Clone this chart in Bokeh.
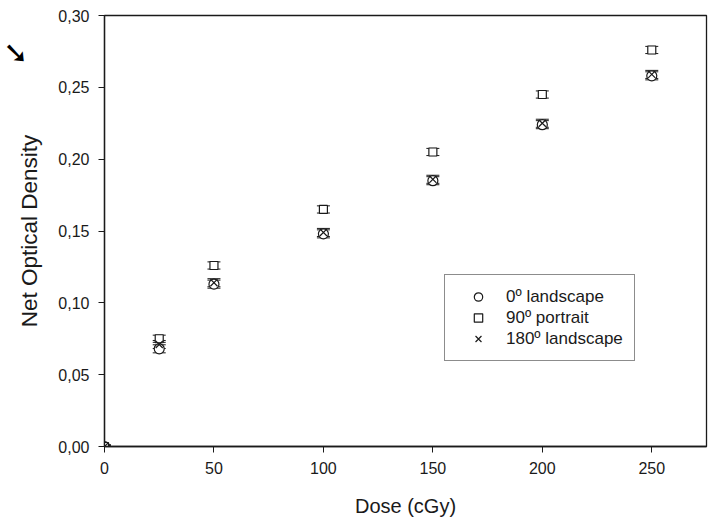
from bokeh.plotting import figure
from bokeh.models import (ColumnDataSource, Whisker, TeeHead, FixedTicker, Range1d,
                          Legend, LegendItem, LinearAxis)
from bokeh.embed import file_html
from bokeh.resources import INLINE

dose = [0, 25, 50, 100, 150, 200, 250]
od_0_landscape = [0.0, 0.068, 0.113, 0.148, 0.185, 0.224, 0.258]
od_90_portrait = [0.0, 0.075, 0.126, 0.165, 0.205, 0.245, 0.276]
od_180_landscape = [0.0, 0.071, 0.114, 0.149, 0.186, 0.225, 0.259]
err_0 = [0.001, 0.0028, 0.0028, 0.0028, 0.0028, 0.0028, 0.0028]
err_90 = [0.001, 0.0025, 0.0025, 0.0025, 0.0025, 0.0025, 0.0025]
err_180 = [0.001, 0.0028, 0.0028, 0.0028, 0.0028, 0.0028, 0.0028]
y_ticks = [0.0, 0.05, 0.10, 0.15, 0.20, 0.25, 0.30]
y_tick_labels = ["0,00", "0,05", "0,10", "0,15", "0,20", "0,25", "0,30"]
x_ticks = [0, 50, 100, 150, 200, 250]
series_names = ["0º landscape", "90º portrait", "180º landscape"]
arrow_mark_at = [0.274]
arrow_mark_text = ["➘"]

FONT = "Liberation Sans"
INK = "#1a1a1a"

p = figure(width=710, height=520, output_backend="svg", toolbar_location=None,
           x_range=Range1d(0, 275), y_range=Range1d(0, 0.30),
           min_border_left=104, min_border_right=4, min_border_top=15,
           min_border_bottom=74)
p.xgrid.visible = False
p.ygrid.visible = False
p.outline_line_color = INK
p.outline_line_width = 1.3
p.background_fill_color = "white"
p.border_fill_color = "white"

p.xaxis.ticker = FixedTicker(ticks=x_ticks)
p.yaxis.ticker = FixedTicker(ticks=y_ticks)
p.yaxis.major_label_overrides = {t: l for t, l in zip(y_ticks, y_tick_labels)}
for ax in (p.xaxis, p.yaxis):
    ax.minor_tick_line_color = None
    ax.major_tick_out = 6
    ax.major_tick_in = 0
    ax.axis_line_color = INK
    ax.axis_line_width = 1.3
    ax.major_tick_line_color = INK
    ax.major_label_text_font = FONT
    ax.major_label_text_font_size = "16px"
    ax.major_label_text_color = INK
    ax.axis_label_text_font = FONT
    ax.axis_label_text_font_style = "normal"
    ax.axis_label_text_color = INK
p.xaxis.axis_label = "Dose (cGy)"
p.yaxis.axis_label = "Net Optical Density"
p.xaxis.axis_label_text_font_size = "20px"
p.yaxis.axis_label_text_font_size = "22.5px"
p.xaxis.axis_label_standoff = 18
p.yaxis.axis_label_standoff = 13
p.xaxis.major_label_standoff = 9
p.yaxis.major_label_standoff = 9

items = []
series = [(od_0_landscape, err_0, "circle", 10),
          (od_90_portrait, err_90, "square", 8),
          (od_180_landscape, err_180, "x", 10)]
for (vals, err, marker, size), name in zip(series, series_names):
    src = ColumnDataSource(dict(x=dose, y=vals,
                                lo=[v - e for v, e in zip(vals, err)],
                                hi=[v + e for v, e in zip(vals, err)]))
    w = Whisker(source=src, base="x", lower="lo", upper="hi",
                line_color=INK, line_width=1,
                lower_head=TeeHead(size=13, line_color=INK, line_width=1),
                upper_head=TeeHead(size=13, line_color=INK, line_width=1))
    p.add_layout(w)
    r = p.scatter("x", "y", source=src, marker=marker, size=size,
                  fill_color="white" if marker != "x" else None,
                  line_color=INK, line_width=1.2)
    items.append(LegendItem(label=name, renderers=[r]))

legend = Legend(items=items, location=(340, 85))
legend.label_text_font = FONT
legend.label_text_font_size = "17px"
legend.label_text_color = INK
legend.border_line_color = INK
legend.border_line_width = 1.2
legend.padding = 11
legend.spacing = 0
legend.margin = 0
legend.glyph_width = 44
legend.glyph_height = 21
legend.label_height = 21
legend.label_standoff = 6
legend.background_fill_alpha = 1
p.add_layout(legend, "center")

# decorative arrow in the left margin, drawn as an axis tick label
arrow_axis = LinearAxis(ticker=FixedTicker(ticks=arrow_mark_at),
                        major_label_overrides=dict(zip(arrow_mark_at, arrow_mark_text)),
                        axis_line_color=None, major_tick_line_color=None,
                        minor_tick_line_color=None, major_tick_out=0, major_tick_in=0,
                        major_label_text_font="DejaVu Sans",
                        major_label_text_font_size="30px",
                        major_label_text_color="black",
                        major_label_standoff=-14)
p.add_layout(arrow_axis, "left")

open("out.html", "w").write(file_html(p, INLINE))
